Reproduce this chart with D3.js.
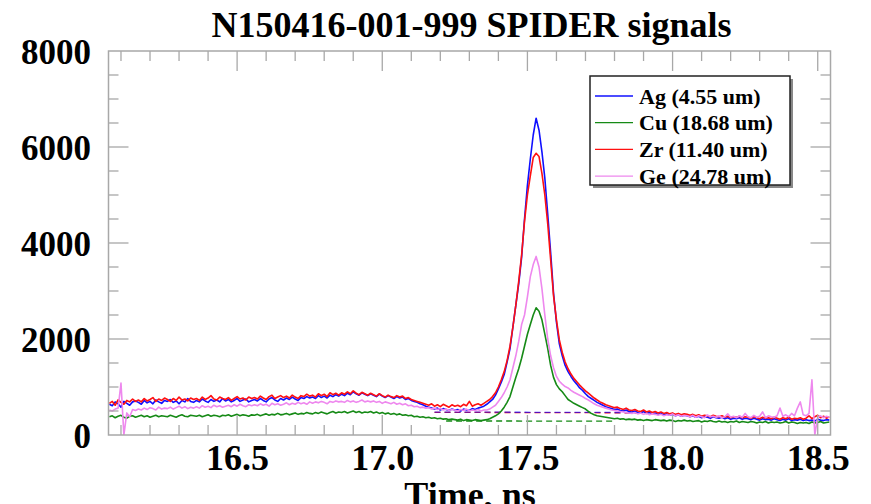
<!DOCTYPE html>
<html>
<head>
<meta charset="utf-8">
<script src="https://cdn.jsdelivr.net/npm/d3@7"></script>
<style>
  html, body { margin: 0; padding: 0; background: #fff; overflow: hidden; }
  svg { display: block; }
  text { font-family: "Liberation Serif", "Times New Roman", serif; font-weight: bold; fill: #000; }
</style>
</head>
<body>
<svg id="chart" width="871" height="504"></svg>
<script>
// ---------------- DATA ----------------
const chartTitle = "N150416-001-999 SPIDER signals";
const xAxisTitle = "Time, ns";
const xTickValues = [16.5, 17.0, 17.5, 18.0, 18.5];
const yTickValues = [0, 2000, 4000, 6000, 8000];
const seriesNames = ["Ag (4.55 um)", "Cu (18.68 um)", "Zr (11.40 um)", "Ge (24.78 um)"];

const times = [
16.06,16.07,16.08,16.09,16.10,16.11,16.12,16.13,16.14,16.15,
16.16,16.17,16.18,16.19,16.20,16.21,16.22,16.23,16.24,16.25,
16.26,16.27,16.28,16.29,16.30,16.31,16.32,16.33,16.34,16.35,
16.36,16.37,16.38,16.39,16.40,16.41,16.42,16.43,16.44,16.45,
16.46,16.47,16.48,16.49,16.50,16.51,16.52,16.53,16.54,16.55,
16.56,16.57,16.58,16.59,16.60,16.61,16.62,16.63,16.64,16.65,
16.66,16.67,16.68,16.69,16.70,16.71,16.72,16.73,16.74,16.75,
16.76,16.77,16.78,16.79,16.80,16.81,16.82,16.83,16.84,16.85,
16.86,16.87,16.88,16.89,16.90,16.91,16.92,16.93,16.94,16.95,
16.96,16.97,16.98,16.99,17.00,17.01,17.02,17.03,17.04,17.05,
17.06,17.07,17.08,17.09,17.10,17.11,17.12,17.13,17.14,17.15,
17.16,17.17,17.18,17.19,17.20,17.21,17.22,17.23,17.24,17.25,
17.26,17.27,17.28,17.29,17.30,17.31,17.32,17.33,17.34,17.35,
17.36,17.37,17.38,17.39,17.40,17.41,17.42,17.43,17.44,17.45,
17.46,17.47,17.48,17.49,17.50,17.51,17.52,17.53,17.54,17.55,
17.56,17.57,17.58,17.59,17.60,17.61,17.62,17.63,17.64,17.65,
17.66,17.67,17.68,17.69,17.70,17.71,17.72,17.73,17.74,17.75,
17.76,17.77,17.78,17.79,17.80,17.81,17.82,17.83,17.84,17.85,
17.86,17.87,17.88,17.89,17.90,17.91,17.92,17.93,17.94,17.95,
17.96,17.97,17.98,17.99,18.00,18.01,18.02,18.03,18.04,18.05,
18.06,18.07,18.08,18.09,18.10,18.11,18.12,18.13,18.14,18.15,
18.16,18.17,18.18,18.19,18.20,18.21,18.22,18.23,18.24,18.25,
18.26,18.27,18.28,18.29,18.30,18.31,18.32,18.33,18.34,18.35,
18.36,18.37,18.38,18.39,18.40,18.41,18.42,18.43,18.44,18.45,
18.46,18.47,18.48,18.49,18.50,18.51,18.52,18.53,18.54
];

const agValues = [
640,610,690,650,580,700,660,620,690,710,
680,640,720,670,700,650,730,690,660,720,
700,740,680,710,650,720,690,760,700,680,
720,690,750,710,680,740,700,730,690,760,
710,740,690,720,760,700,730,750,690,720,
740,710,760,720,690,750,780,730,700,760,
730,770,740,790,750,720,780,760,800,770,
790,760,820,780,810,770,830,800,840,810,
850,820,870,840,900,860,830,880,850,820,
860,830,800,850,810,780,820,790,760,800,
770,790,740,760,720,700,680,650,630,600,
580,560,540,560,520,550,530,510,540,520,
530,500,540,520,510,550,530,560,580,600,
640,690,740,830,960,1100,1260,1520,1800,2250,
2700,3150,3700,4500,5200,5750,6250,6600,6350,5900,
5350,4600,3800,2950,2350,1900,1650,1450,1320,1220,
1130,1060,980,930,860,800,760,720,680,650,
620,590,570,550,530,540,510,500,520,490,
480,500,470,460,490,450,470,440,460,430,
450,420,440,410,430,400,420,390,410,400,
380,400,370,390,360,380,370,350,380,360,
350,370,340,360,330,350,340,360,330,350,
340,320,350,330,310,340,320,330,310,340,
320,300,330,310,340,300,320,310,330,300,
320,300,310,290,330,310,300,320,310
];

const cuValues = [
380,400,360,390,410,370,350,390,400,370,
390,410,380,400,370,390,410,380,400,390,
380,410,390,370,400,420,390,380,410,400,
390,410,380,400,420,390,410,400,380,410,
400,420,390,410,430,400,420,410,390,420,
410,430,400,420,440,410,430,420,450,420,
430,450,420,440,460,430,450,440,470,450,
440,470,450,480,460,440,470,490,460,480,
470,490,460,480,500,470,490,460,480,470,
490,460,480,450,470,440,460,430,450,420,
440,410,420,400,410,380,390,370,380,360,
370,350,360,340,350,330,340,320,330,320,
310,330,300,320,310,300,320,310,300,310,
320,340,370,400,440,500,580,680,800,1000,
1200,1380,1600,1850,2100,2300,2500,2650,2580,2400,
2100,1800,1450,1200,1050,960,900,820,740,700,
660,630,600,570,540,490,450,420,400,390,
380,370,360,350,340,350,330,340,320,330,
320,330,310,320,300,320,310,300,320,310,
300,310,290,310,300,280,300,290,310,290,
300,280,290,300,270,290,280,300,280,270,
290,270,280,260,280,270,290,260,280,270,
260,280,270,250,270,260,280,250,270,260,
270,250,260,280,250,270,260,240,260,250,
260,240,270,250,260,280,250,260,270
];

const zrValues = [
660,700,620,730,680,640,720,690,750,700,
730,690,760,710,740,780,700,750,720,770,
740,700,760,720,790,730,750,710,770,740,
760,720,790,740,770,820,750,730,790,760,
740,780,720,760,800,750,770,730,790,760,
780,750,810,770,740,800,830,760,790,820,
780,810,770,830,790,760,820,800,850,810,
830,790,860,820,850,800,880,840,870,830,
880,850,900,860,920,870,840,890,860,830,
870,840,810,860,820,790,830,800,780,820,
790,810,760,780,740,720,700,680,660,640,
620,650,600,630,590,640,610,580,630,600,
620,590,640,610,700,600,630,650,620,660,
700,740,800,880,1000,1150,1320,1550,1850,2250,
2700,3200,3750,4450,5000,5400,5780,5870,5800,5450,
5000,4400,3650,2900,2400,1980,1720,1520,1380,1270,
1180,1110,1040,980,920,870,820,770,730,690,
660,630,610,590,570,580,550,530,560,520,
510,530,500,490,520,480,500,470,490,460,
480,450,470,440,460,430,450,420,440,430,
410,430,400,420,390,410,400,380,410,390,
380,400,370,390,360,380,370,390,360,380,
370,350,380,360,340,370,350,360,340,370,
350,330,360,340,370,330,350,340,360,330,
350,400,340,380,410,360,390,350,380
];

const geValues = [
520,500,540,560,1080,0,460,380,530,510,
540,520,560,530,570,550,520,580,540,560,
550,580,540,570,600,560,590,550,580,560,
590,560,610,580,600,570,620,590,610,580,
600,620,590,630,600,640,610,590,630,610,
630,610,650,620,640,600,660,630,650,620,
640,670,630,660,640,680,650,670,640,690,
660,690,670,700,680,650,700,680,710,690,
700,680,720,690,710,680,700,730,690,710,
690,710,680,700,660,690,670,650,680,640,
660,630,650,610,620,590,600,570,580,560,
570,540,560,530,550,520,540,510,530,520,
500,530,510,540,500,520,510,530,500,520,
520,540,580,620,700,780,880,1000,1150,1400,
1650,1950,2300,2500,2880,3300,3550,3720,3500,3050,
2500,2000,1650,1400,1220,1120,1060,1010,980,930,
890,860,830,800,760,730,690,650,620,600,
580,560,540,520,510,500,490,480,470,460,
450,470,440,460,430,450,420,440,430,410,
430,400,420,410,440,400,420,390,410,400,
380,410,370,400,380,360,420,380,390,370,
400,360,380,440,370,390,360,400,370,450,
380,360,410,370,390,480,360,400,380,370,
400,560,390,420,380,450,400,560,690,420,
400,450,1150,0,380,400,360,390,370
];

// fitted background levels (dashed lines)
const bgTimesAgZr = [17.18, 17.88];
const bgAg = [478, 468];
const bgZr = [472, 462];
const bgTimesCu = [17.22, 17.80];
const bgCu = [292, 290];

// ---------------- DRAWING ----------------
(function () {
const svg = d3.select("#chart");
const pL = 108.5, pR = 830.5, pT = 51, pB = 435;

const x = d3.scaleLinear().domain([16.057, 18.544]).range([pL, pR]);
const y = d3.scaleLinear().domain([0, 8000]).range([pB, pT]);

const colors = ["#1010ff", "#168a16", "#ff1010", "#ee88ee"];
const series = [
  {name: seriesNames[0], values: agValues, color: colors[0]},
  {name: seriesNames[1], values: cuValues, color: colors[1]},
  {name: seriesNames[2], values: zrValues, color: colors[2]},
  {name: seriesNames[3], values: geValues, color: colors[3]}
];

svg.append("defs").append("clipPath").attr("id", "clip")
  .append("rect").attr("x", pL).attr("y", pT).attr("width", pR - pL).attr("height", pB - pT);

const line = d3.line().x(d => x(d[0])).y(d => y(d[1]));
const plot = svg.append("g").attr("clip-path", "url(#clip)");

// dashed backgrounds
plot.append("path").datum(bgTimesCu.map((t, i) => [t, bgCu[i]]))
  .attr("d", line).attr("fill", "none").attr("stroke", colors[1]).attr("stroke-width", 1.3).attr("stroke-dasharray", "6,4");
plot.append("path").datum(bgTimesAgZr.map((t, i) => [t, bgZr[i]]))
  .attr("d", line).attr("fill", "none").attr("stroke", colors[2]).attr("stroke-width", 1.3).attr("stroke-dasharray", "6,4");
plot.append("path").datum(bgTimesAgZr.map((t, i) => [t, bgAg[i]]))
  .attr("d", line).attr("fill", "none").attr("stroke", colors[0]).attr("stroke-width", 1.3).attr("stroke-dasharray", "6,4").attr("opacity", 0.7);

series.forEach(s => {
  plot.append("path").datum(times.map((t, i) => [t, s.values[i]]))
    .attr("d", line).attr("fill", "none").attr("stroke", s.color)
    .attr("stroke-width", 1.6).attr("stroke-linejoin", "round");
});

// frame
const frameColor = "#a8a8a8";
svg.append("rect").attr("x", pL).attr("y", pT).attr("width", pR - pL).attr("height", pB - pT)
  .attr("fill", "none").attr("stroke", frameColor).attr("stroke-width", 1.5);

// ticks
const xMinor = d3.range(161, 186).map(v => v / 10);
const yMinor = d3.range(0, 17).map(v => v * 500);
const isMajorX = v => Math.abs(v * 2 - Math.round(v * 2)) < 1e-6;
const tickG = svg.append("g").attr("stroke", frameColor).attr("stroke-width", 1.3);
xMinor.forEach(v => {
  const px = x(v);
  const len = isMajorX(v) ? 20 : 10;
  tickG.append("line").attr("x1", px).attr("x2", px).attr("y1", pB).attr("y2", pB - len);
  tickG.append("line").attr("x1", px).attr("x2", px).attr("y1", pT).attr("y2", pT + len);
});
yMinor.forEach(v => {
  if (v === 0 || v === 8000) return;
  const py = y(v);
  const len = (v % 2000 === 0) ? 20 : 10;
  tickG.append("line").attr("x1", pL).attr("x2", pL + len).attr("y1", py).attr("y2", py);
  tickG.append("line").attr("x1", pR).attr("x2", pR - len).attr("y1", py).attr("y2", py);
});

// axis labels via d3 axes (tick lines hidden)
const xAxis = d3.axisBottom(x).tickValues(xTickValues).tickFormat(d3.format(".1f")).tickSize(0).tickPadding(0);
const gx = svg.append("g").attr("transform", `translate(0,${pB})`).call(xAxis);
gx.select(".domain").remove();
gx.selectAll("text").attr("dy", null).attr("y", 35).attr("font-size", 36)
  .attr("font-family", "Liberation Serif").attr("font-weight", "bold").attr("fill", "#000");

const yAxis = d3.axisLeft(y).tickValues(yTickValues).tickFormat(d3.format("d")).tickSize(0).tickPadding(0);
const gy = svg.append("g").attr("transform", `translate(91,0)`).call(yAxis);
gy.select(".domain").remove();
gy.selectAll("text").attr("dy", "0.35em").attr("x", 0).attr("font-size", 35)
  .attr("font-family", "Liberation Serif").attr("font-weight", "bold").attr("fill", "#000");

// title
svg.append("text").attr("x", (pL + pR) / 2 + 2).attr("y", 37).attr("text-anchor", "middle")
  .attr("font-size", 36).text(chartTitle);

// x axis title (partly below the picture edge, as in the reference)
svg.append("text").attr("x", 470).attr("y", 507).attr("text-anchor", "middle")
  .attr("font-size", 36).text(xAxisTitle);

// legend
const lg = svg.append("g");
const lx = 590, ly = 76, lw = 200, lh = 109;
lg.append("rect").attr("x", lx + 3).attr("y", ly + 3).attr("width", lw).attr("height", lh).attr("fill", "#888");
lg.append("rect").attr("x", lx).attr("y", ly).attr("width", lw).attr("height", lh)
  .attr("fill", "#fff").attr("stroke", "#222").attr("stroke-width", 1.5);
series.forEach((s, i) => {
  const cy = 96 + i * 26.7;
  lg.append("line").attr("x1", 595).attr("x2", 633).attr("y1", cy).attr("y2", cy)
    .attr("stroke", s.color).attr("stroke-width", 1.3);
  lg.append("text").attr("x", 639).attr("y", cy + 7.5).attr("font-size", 22).text(s.name);
});
})();
</script>
</body>
</html>
